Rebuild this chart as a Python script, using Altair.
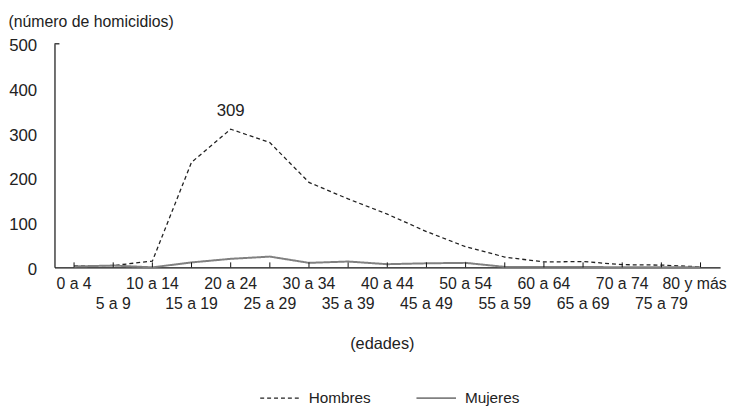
import altair as alt
import pandas as pd

# grupos de edad y homicidios por sexo
edades = ["0 a 4", "5 a 9", "10 a 14", "15 a 19", "20 a 24", "25 a 29",
          "30 a 34", "35 a 39", "40 a 44", "45 a 49", "50 a 54", "55 a 59",
          "60 a 64", "65 a 69", "70 a 74", "75 a 79", "80 y más"]
hombres = [3, 4, 14, 235, 309, 279, 190, 153, 119, 80, 46, 23, 12, 13, 6, 5, 1]
mujeres = [2, 4, 0, 11, 19, 24, 10, 13, 7, 9, 10, 1, 1, 1, 0, 0, 0]
series = ["Hombres", "Mujeres"]
y_ticks = [0, 100, 200, 300, 400, 500]

FONT = "Liberation Sans"
W, H = 673, 226

lineas = pd.concat([
    pd.DataFrame({"edad": edades, "valor": hombres, "sexo": "Hombres"}),
    pd.DataFrame({"edad": edades, "valor": mujeres, "sexo": "Mujeres"}),
])
etiquetas = pd.DataFrame({"edad": edades,
                          "fila": [i % 2 for i in range(len(edades))]})
pico = pd.DataFrame({"edad": [edades[hombres.index(max(hombres))]],
                     "valor": [max(hombres)]})

x_enc = alt.X(
    "edad:N", sort=edades, scale=alt.Scale(domain=edades),
    axis=alt.Axis(title="(edades)", labels=False, ticks=False, domain=True,
                  domainColor="#111", domainWidth=1.2,
                  titleX=331, titleY=77, titleBaseline="middle",
                  titleFont=FONT, titleFontSize=16.5, titleFontWeight="normal",
                  titleColor="#222"),
)
y_enc = alt.Y(
    "valor:Q", scale=alt.Scale(domain=[0, 500], nice=False),
    axis=alt.Axis(title="(número de homicidios)", values=y_ticks, grid=False,
                  ticks=False, domainColor="#111", domainWidth=1.2,
                  labelFont=FONT, labelFontSize=17, labelColor="#222",
                  labelPadding=18, labelOffset=2,
                  titleAngle=0, titleX=-47, titleY=-22, titleAlign="left",
                  titleBaseline="middle", titleFont=FONT, titleFontSize=16,
                  titleFontWeight="normal", titleColor="#222"),
)

base_lineas = alt.Chart(lineas).mark_line().encode(
    x=x_enc,
    y=y_enc,
    color=alt.Color("sexo:N", scale=alt.Scale(domain=series, range=["#222222", "#808080"]),
                    legend=alt.Legend(title=None, orient="none", direction="horizontal",
                                      legendX=207, legendY=337, padding=0,
                                      symbolType="stroke", symbolSize=1600,
                                      labelFont=FONT, labelFontSize=15.5,
                                      labelColor="#222", labelOffset=8,
                                      columnPadding=42)),
    strokeDash=alt.StrokeDash("sexo:N", scale=alt.Scale(domain=series, range=[[4, 3], [1, 0]]),
                              legend=None),
    strokeWidth=alt.StrokeWidth("sexo:N", scale=alt.Scale(domain=series, range=[1.3, 2]),
                                legend=None),
)

marcas = alt.Chart(etiquetas).mark_rule(color="#111", strokeWidth=1).encode(
    x=x_enc, y=alt.value(H), y2=alt.value(H - 5)
)

texto = dict(font=FONT, fontSize=16, color="#222", baseline="middle")

fila1 = alt.Chart(etiquetas).transform_filter(
    "datum.fila == 0 && datum.edad != '80 y más'"
).mark_text(**texto).encode(x=x_enc, y=alt.value(H + 17), text="edad:N")

ultima = alt.Chart(etiquetas).transform_filter(
    "datum.edad == '80 y más'"
).mark_text(dx=-6, **texto).encode(x=x_enc, y=alt.value(H + 17), text="edad:N")

fila2 = alt.Chart(etiquetas).transform_filter("datum.fila == 1").mark_text(
    **texto
).encode(x=x_enc, y=alt.value(H + 37), text="edad:N")

etiqueta_pico = alt.Chart(pico).mark_text(
    font=FONT, fontSize=17, color="#222", baseline="middle", dy=-18
).encode(x=x_enc, y=y_enc, text="valor:Q")

tick_sup = alt.Chart(pico).mark_rule(color="#111", strokeWidth=1.2).encode(
    x=alt.value(0), x2=alt.value(5), y=alt.value(0)
)

chart = alt.layer(base_lineas, marcas, fila1, ultima, fila2, etiqueta_pico, tick_sup).properties(
    width=W, height=H,
    autosize=alt.AutoSizeParams(type="none"),
    padding={"left": 47, "top": 34, "right": 9, "bottom": 138},
).configure_view(stroke=None)

chart.save("out.html", embed_options={"renderer": "svg", "actions": False})
